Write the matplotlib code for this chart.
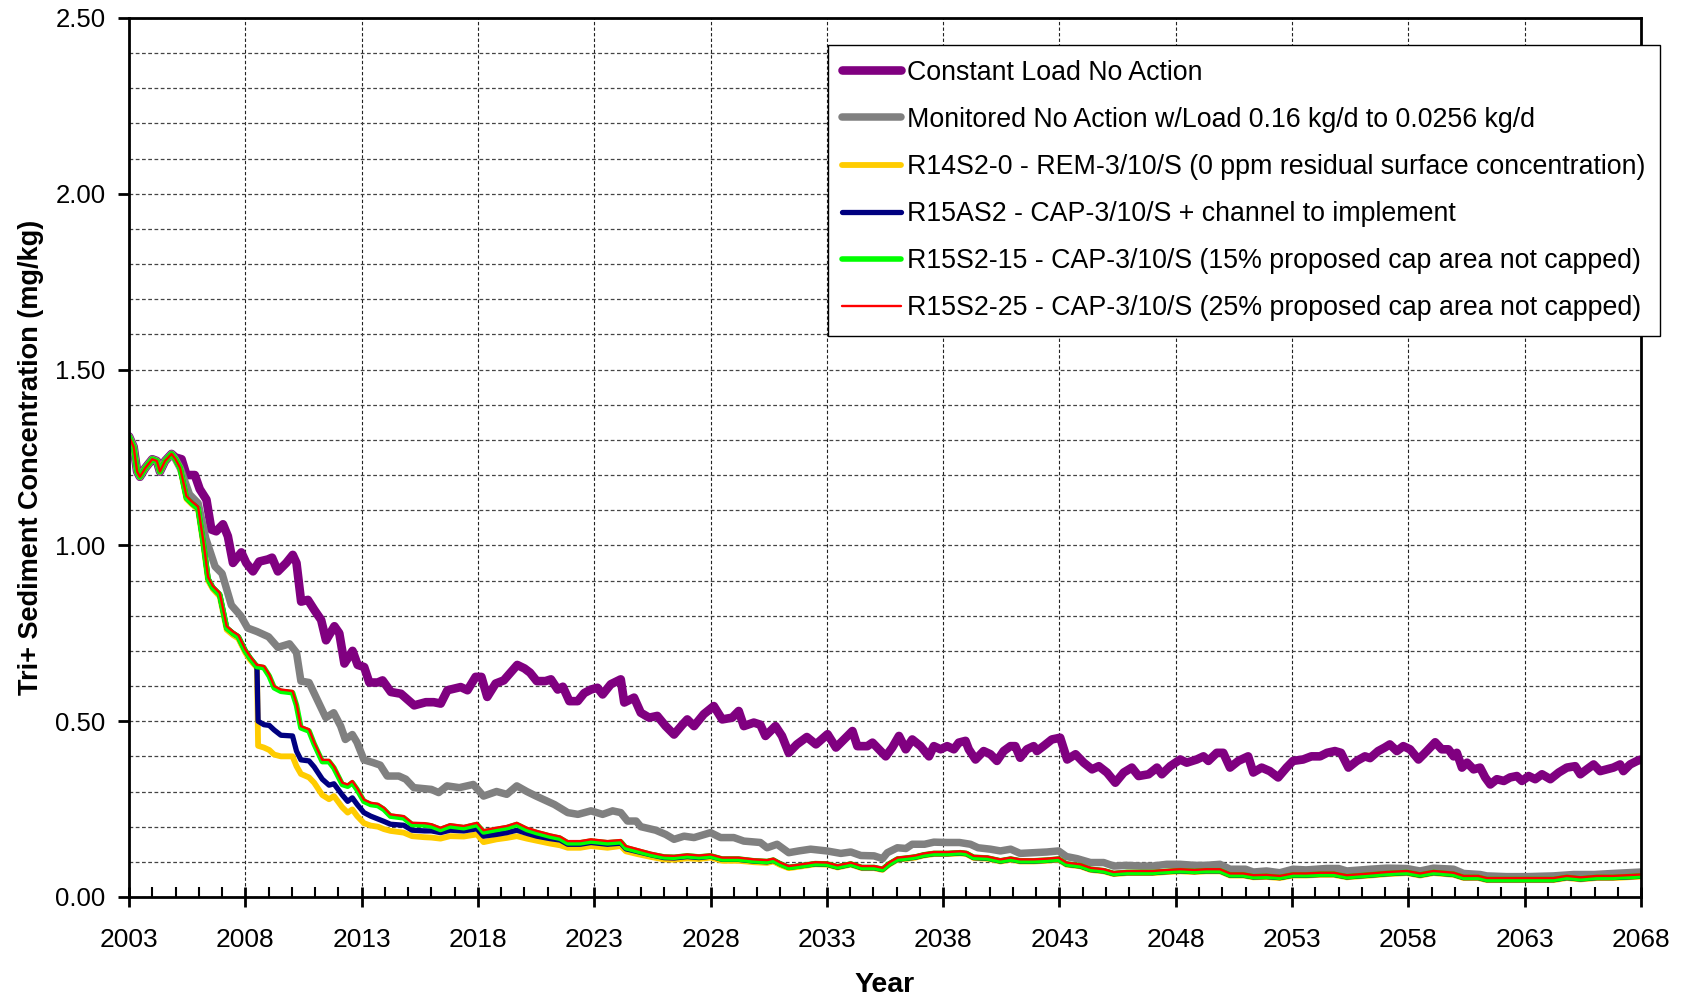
import matplotlib
matplotlib.use('Agg')
import matplotlib.pyplot as plt
from matplotlib.ticker import MultipleLocator, FixedLocator, FormatStrFormatter

plt.rcParams['font.family'] = ['Liberation Sans', 'DejaVu Sans']

# Constant load, no action
purple_years = [
    2003.0, 2003.2, 2003.35, 2003.47, 2003.7, 2004.0, 2004.2, 2004.33, 2004.55, 2004.83,
    2005.0, 2005.26, 2005.47, 2005.83, 2006.04, 2006.33, 2006.54, 2006.75, 2007.04, 2007.25,
    2007.47, 2007.83, 2008.04, 2008.33, 2008.6, 2008.97, 2009.15, 2009.4, 2009.76, 2010.04,
    2010.2, 2010.4, 2010.69, 2010.97, 2011.26, 2011.47, 2011.83, 2012.04, 2012.26, 2012.61,
    2012.83, 2013.11, 2013.33, 2013.69, 2013.9, 2014.26, 2014.69, 2015.26, 2015.76, 2016.1,
    2016.4, 2016.69, 2017.26, 2017.55, 2017.9, 2018.15, 2018.4, 2018.76, 2019.11, 2019.69,
    2020.0, 2020.24, 2020.53, 2020.9, 2021.14, 2021.43, 2021.65, 2021.93, 2022.29, 2022.57,
    2022.86, 2023.14, 2023.36, 2023.71, 2024.14, 2024.29, 2024.71, 2025.0, 2025.36, 2025.71,
    2026.07, 2026.43, 2026.79, 2027.0, 2027.29, 2027.71, 2028.14, 2028.5, 2028.93, 2029.21,
    2029.43, 2029.86, 2030.14, 2030.36, 2030.79, 2031.07, 2031.36, 2031.71, 2032.14, 2032.53,
    2033.03, 2033.39, 2033.74, 2034.1, 2034.31, 2034.74, 2034.96, 2035.24, 2035.53, 2035.81,
    2036.1, 2036.39, 2036.67, 2037.03, 2037.39, 2037.6, 2037.89, 2038.17, 2038.46, 2038.67,
    2038.96, 2039.1, 2039.39, 2039.74, 2040.03, 2040.31, 2040.6, 2040.89, 2041.1, 2041.31,
    2041.6, 2041.89, 2042.03, 2042.31, 2042.67, 2043.03, 2043.33, 2043.69, 2044.04, 2044.4,
    2044.69, 2045.04, 2045.4, 2045.76, 2046.11, 2046.4, 2046.83, 2047.19, 2047.4, 2047.76,
    2048.19, 2048.47, 2048.9, 2049.19, 2049.4, 2049.76, 2050.04, 2050.33, 2050.69, 2051.11,
    2051.33, 2051.69, 2052.04, 2052.4, 2052.76, 2053.04, 2053.47, 2053.83, 2054.2, 2054.5,
    2054.84, 2055.1, 2055.42, 2055.78, 2056.13, 2056.35, 2056.7, 2056.98, 2057.2, 2057.5,
    2057.78, 2058.07, 2058.43, 2058.79, 2059.15, 2059.43, 2059.72, 2059.94, 2060.08, 2060.3,
    2060.52, 2060.8, 2061.08, 2061.3, 2061.52, 2061.8, 2062.1, 2062.37, 2062.66, 2062.88,
    2063.17, 2063.45, 2063.74, 2064.1, 2064.46, 2064.81, 2065.17, 2065.39, 2065.67, 2065.96,
    2066.24, 2066.53, 2066.81, 2067.1, 2067.24, 2067.53, 2067.83, 2068.0,
]
purple_vals = [
    1.31, 1.28, 1.21, 1.195, 1.22, 1.245, 1.24, 1.21, 1.24, 1.26,
    1.25, 1.245, 1.20, 1.20, 1.16, 1.13, 1.045, 1.04, 1.06, 1.026,
    0.95, 0.98, 0.95, 0.926, 0.954, 0.96, 0.965, 0.926, 0.95, 0.973,
    0.95, 0.84, 0.845, 0.816, 0.788, 0.73, 0.77, 0.75, 0.664, 0.70,
    0.66, 0.654, 0.61, 0.61, 0.616, 0.583, 0.578, 0.545, 0.554, 0.554,
    0.55, 0.588, 0.597, 0.588, 0.626, 0.626, 0.569, 0.607, 0.616, 0.66,
    0.65, 0.638, 0.614, 0.614, 0.619, 0.59, 0.598, 0.557, 0.557, 0.58,
    0.59, 0.595, 0.576, 0.605, 0.619, 0.553, 0.567, 0.524, 0.51, 0.515,
    0.486, 0.462, 0.49, 0.505, 0.486, 0.52, 0.543, 0.505, 0.51, 0.529,
    0.486, 0.496, 0.49, 0.458, 0.486, 0.458, 0.41, 0.434, 0.455, 0.434,
    0.463, 0.425, 0.448, 0.472, 0.429, 0.429, 0.439, 0.42, 0.40, 0.425,
    0.458, 0.42, 0.448, 0.429, 0.40, 0.429, 0.42, 0.429, 0.42, 0.439,
    0.444, 0.42, 0.391, 0.415, 0.406, 0.387, 0.415, 0.429, 0.429, 0.396,
    0.42, 0.429, 0.415, 0.429, 0.448, 0.453, 0.391, 0.406, 0.382, 0.363,
    0.372, 0.354, 0.325, 0.354, 0.368, 0.344, 0.349, 0.368, 0.349, 0.372,
    0.391, 0.382, 0.391, 0.40, 0.387, 0.41, 0.41, 0.368, 0.387, 0.40,
    0.354, 0.368, 0.358, 0.34, 0.368, 0.387, 0.391, 0.40, 0.40, 0.41,
    0.415, 0.41, 0.368, 0.387, 0.40, 0.395, 0.415, 0.425, 0.434, 0.415,
    0.429, 0.42, 0.391, 0.415, 0.44, 0.42, 0.42, 0.40, 0.41, 0.368,
    0.382, 0.363, 0.368, 0.34, 0.32, 0.335, 0.33, 0.34, 0.344, 0.33,
    0.344, 0.335, 0.349, 0.335, 0.354, 0.368, 0.372, 0.349, 0.363, 0.377,
    0.358, 0.363, 0.368, 0.377, 0.358, 0.377, 0.387, 0.391,
]

# Monitored no action with declining load
gray_years = [
    2003.0, 2003.2, 2003.35, 2003.47, 2003.7, 2004.0, 2004.2, 2004.33, 2004.55, 2004.83,
    2005.0, 2005.2, 2005.6, 2005.97, 2006.3, 2006.7, 2007.0, 2007.4, 2007.8, 2008.1,
    2008.5, 2009.0, 2009.4, 2009.9, 2010.2, 2010.39, 2010.74, 2011.1, 2011.46, 2011.8,
    2012.1, 2012.3, 2012.6, 2012.8, 2013.1, 2013.5, 2013.8, 2014.1, 2014.6, 2014.9,
    2015.24, 2016.0, 2016.31, 2016.67, 2017.2, 2017.8, 2018.24, 2018.8, 2019.24, 2019.67,
    2020.1, 2020.5, 2020.96, 2021.29, 2021.86, 2022.3, 2022.86, 2023.36, 2023.79, 2024.14,
    2024.43, 2024.8, 2025.0, 2025.64, 2026.07, 2026.43, 2026.86, 2027.29, 2028.0, 2028.43,
    2029.0, 2029.43, 2030.14, 2030.43, 2030.86, 2031.36, 2031.79, 2032.3, 2033.0, 2033.6,
    2034.03, 2034.46, 2035.03, 2035.39, 2035.6, 2036.03, 2036.4, 2036.67, 2037.2, 2037.6,
    2038.17, 2038.7, 2039.17, 2039.5, 2040.03, 2040.46, 2040.9, 2041.31, 2041.9, 2042.46,
    2042.96, 2043.3, 2043.76, 2044.33, 2044.9, 2045.33, 2045.9, 2046.5, 2047.0, 2047.61,
    2048.19, 2048.8, 2049.3, 2049.9, 2050.33, 2051.0, 2051.33, 2051.9, 2052.47, 2053.04,
    2053.6, 2054.47, 2055.0, 2055.35, 2056.35, 2057.07, 2057.93, 2058.5, 2059.08, 2059.94,
    2060.37, 2061.08, 2061.37, 2062.2, 2063.1, 2064.24, 2065.1, 2066.0, 2066.8, 2068.0,
]
gray_vals = [
    1.31, 1.28, 1.21, 1.195, 1.22, 1.245, 1.24, 1.21, 1.24, 1.26,
    1.245, 1.22, 1.145, 1.12, 1.02, 0.94, 0.92, 0.83, 0.80, 0.765,
    0.755, 0.74, 0.71, 0.72, 0.695, 0.614, 0.61, 0.56, 0.51, 0.524,
    0.486, 0.448, 0.462, 0.44, 0.39, 0.382, 0.375, 0.344, 0.344, 0.335,
    0.311, 0.306, 0.297, 0.316, 0.311, 0.32, 0.287, 0.30, 0.292, 0.316,
    0.30, 0.287, 0.273, 0.263, 0.24, 0.235, 0.245, 0.235, 0.245, 0.24,
    0.216, 0.216, 0.20, 0.19, 0.178, 0.164, 0.173, 0.169, 0.183, 0.169,
    0.169, 0.159, 0.155, 0.14, 0.15, 0.126, 0.131, 0.136, 0.131, 0.124,
    0.128, 0.118, 0.117, 0.109, 0.126, 0.14, 0.138, 0.15, 0.15, 0.156,
    0.155, 0.155, 0.15, 0.14, 0.136, 0.131, 0.136, 0.124, 0.126, 0.128,
    0.131, 0.115, 0.109, 0.098, 0.098, 0.088, 0.09, 0.088, 0.088, 0.093,
    0.093, 0.09, 0.09, 0.093, 0.079, 0.079, 0.071, 0.074, 0.069, 0.079,
    0.077, 0.081, 0.081, 0.074, 0.079, 0.082, 0.081, 0.074, 0.082, 0.079,
    0.067, 0.064, 0.06, 0.058, 0.058, 0.06, 0.064, 0.064, 0.067, 0.071,
]

# Remedial scenarios share one time axis
scen_years = [
    2003.0, 2003.2, 2003.35, 2003.47, 2003.7, 2004.0, 2004.2, 2004.33, 2004.55, 2004.83,
    2005.0, 2005.2, 2005.47, 2005.7, 2005.97, 2006.2, 2006.4, 2006.6, 2006.9, 2007.2,
    2007.47, 2007.7, 2008.0, 2008.2, 2008.5, 2008.55, 2008.8, 2009.03, 2009.24, 2009.53,
    2010.03, 2010.2, 2010.39, 2010.74, 2010.96, 2011.31, 2011.6, 2011.81, 2012.17, 2012.4,
    2012.6, 2012.81, 2013.1, 2013.39, 2013.7, 2013.96, 2014.24, 2014.81, 2015.17, 2015.7,
    2016.0, 2016.39, 2016.8, 2017.39, 2017.96, 2018.24, 2018.8, 2019.24, 2019.67, 2020.1,
    2020.53, 2021.1, 2021.53, 2021.86, 2022.4, 2022.86, 2023.57, 2024.14, 2024.36, 2024.86,
    2025.43, 2026.0, 2026.43, 2027.0, 2027.5, 2028.0, 2028.5, 2029.2, 2029.86, 2030.43,
    2030.7, 2031.0, 2031.36, 2031.8, 2032.5, 2033.0, 2033.46, 2034.03, 2034.5, 2035.03,
    2035.39, 2035.67, 2036.03, 2036.46, 2036.8, 2037.17, 2037.6, 2038.2, 2038.74, 2039.0,
    2039.31, 2039.9, 2040.46, 2040.9, 2041.31, 2041.9, 2042.46, 2042.96, 2043.3, 2043.9,
    2044.33, 2044.9, 2045.33, 2045.9, 2046.5, 2047.0, 2047.61, 2048.19, 2048.8, 2049.3,
    2049.9, 2050.33, 2050.9, 2051.33, 2051.9, 2052.47, 2053.04, 2053.6, 2054.2, 2054.8,
    2055.35, 2056.35, 2057.07, 2057.93, 2058.5, 2059.08, 2059.94, 2060.37, 2061.0, 2061.37,
    2062.2, 2063.1, 2064.24, 2064.81, 2065.4, 2066.1, 2066.8, 2067.4, 2068.0,
]
r14s2_0 = [
    1.31, 1.28, 1.21, 1.195, 1.22, 1.245, 1.24, 1.21, 1.24, 1.26,
    1.245, 1.22, 1.132, 1.117, 1.102, 1.0, 0.9, 0.876, 0.855, 0.76,
    0.745, 0.735, 0.695, 0.675, 0.652, 0.43, 0.425, 0.418, 0.405, 0.40,
    0.40, 0.372, 0.35, 0.34, 0.325, 0.29, 0.278, 0.287, 0.255, 0.24,
    0.249, 0.23, 0.21, 0.203, 0.2, 0.193, 0.188, 0.183, 0.173, 0.17,
    0.169, 0.166, 0.173, 0.172, 0.178, 0.156, 0.164, 0.168, 0.173, 0.166,
    0.16, 0.152, 0.147, 0.14, 0.14, 0.145, 0.14, 0.145, 0.13, 0.122,
    0.114, 0.107, 0.106, 0.11, 0.108, 0.112, 0.103, 0.103, 0.099, 0.097,
    0.101, 0.091, 0.082, 0.086, 0.093, 0.092, 0.084, 0.092, 0.082, 0.082,
    0.077, 0.092, 0.106, 0.109, 0.112, 0.118, 0.122, 0.122, 0.124, 0.122,
    0.111, 0.109, 0.101, 0.106, 0.101, 0.101, 0.103, 0.106, 0.092, 0.087,
    0.077, 0.073, 0.065, 0.068, 0.068, 0.068, 0.071, 0.073, 0.071, 0.073,
    0.073, 0.061, 0.061, 0.056, 0.057, 0.054, 0.061, 0.061, 0.063, 0.063,
    0.056, 0.061, 0.065, 0.068, 0.061, 0.068, 0.063, 0.054, 0.054, 0.048,
    0.048, 0.048, 0.048, 0.054, 0.05, 0.054, 0.054, 0.056, 0.058,
]
r15as2 = [
    1.31, 1.28, 1.21, 1.195, 1.22, 1.245, 1.24, 1.21, 1.24, 1.26,
    1.245, 1.22, 1.135, 1.12, 1.105, 1.005, 0.905, 0.88, 0.86, 0.765,
    0.75, 0.74, 0.70, 0.68, 0.655, 0.50, 0.49, 0.488, 0.475, 0.46,
    0.458, 0.415, 0.39, 0.387, 0.37, 0.335, 0.318, 0.322, 0.29, 0.272,
    0.282, 0.263, 0.24, 0.23, 0.222, 0.215, 0.207, 0.204, 0.19, 0.188,
    0.188, 0.183, 0.19, 0.188, 0.194, 0.173, 0.178, 0.183, 0.19, 0.181,
    0.173, 0.166, 0.162, 0.15, 0.15, 0.155, 0.15, 0.153, 0.137, 0.129,
    0.12, 0.112, 0.111, 0.115, 0.112, 0.116, 0.107, 0.107, 0.102, 0.1,
    0.104, 0.094, 0.084, 0.088, 0.094, 0.093, 0.085, 0.093, 0.083, 0.083,
    0.078, 0.093, 0.107, 0.11, 0.113, 0.119, 0.123, 0.123, 0.125, 0.123,
    0.112, 0.11, 0.102, 0.107, 0.102, 0.102, 0.104, 0.107, 0.093, 0.088,
    0.078, 0.074, 0.066, 0.069, 0.069, 0.069, 0.072, 0.074, 0.072, 0.074,
    0.074, 0.062, 0.062, 0.057, 0.058, 0.055, 0.062, 0.062, 0.064, 0.064,
    0.057, 0.062, 0.066, 0.069, 0.062, 0.069, 0.064, 0.055, 0.055, 0.049,
    0.049, 0.049, 0.049, 0.055, 0.051, 0.055, 0.055, 0.057, 0.059,
]
r15s2_15 = [
    1.31, 1.28, 1.21, 1.195, 1.22, 1.245, 1.24, 1.21, 1.24, 1.26,
    1.245, 1.22, 1.135, 1.12, 1.105, 1.005, 0.905, 0.88, 0.86, 0.765,
    0.75, 0.74, 0.70, 0.68, 0.655, 0.655, 0.652, 0.628, 0.595, 0.585,
    0.581, 0.545, 0.481, 0.472, 0.435, 0.385, 0.385, 0.367, 0.32, 0.315,
    0.325, 0.305, 0.272, 0.263, 0.26, 0.249, 0.23, 0.225, 0.206, 0.205,
    0.202, 0.192, 0.202, 0.197, 0.206, 0.185, 0.192, 0.197, 0.206, 0.192,
    0.183, 0.173, 0.167, 0.154, 0.154, 0.159, 0.154, 0.157, 0.14, 0.131,
    0.121, 0.114, 0.113, 0.117, 0.114, 0.117, 0.108, 0.108, 0.103, 0.101,
    0.105, 0.094, 0.084, 0.088, 0.095, 0.094, 0.086, 0.094, 0.084, 0.084,
    0.079, 0.094, 0.108, 0.111, 0.114, 0.12, 0.124, 0.124, 0.126, 0.124,
    0.113, 0.111, 0.103, 0.108, 0.103, 0.103, 0.105, 0.108, 0.094, 0.089,
    0.079, 0.075, 0.067, 0.07, 0.07, 0.07, 0.073, 0.075, 0.073, 0.075,
    0.075, 0.063, 0.063, 0.058, 0.059, 0.056, 0.063, 0.063, 0.065, 0.065,
    0.058, 0.063, 0.067, 0.07, 0.063, 0.07, 0.065, 0.056, 0.056, 0.05,
    0.05, 0.05, 0.05, 0.056, 0.052, 0.056, 0.056, 0.058, 0.06,
]
r15s2_25 = [
    1.31, 1.28, 1.21, 1.195, 1.22, 1.245, 1.24, 1.21, 1.24, 1.26,
    1.245, 1.22, 1.14, 1.125, 1.11, 1.01, 0.91, 0.885, 0.865, 0.77,
    0.755, 0.745, 0.705, 0.685, 0.66, 0.66, 0.657, 0.633, 0.60, 0.59,
    0.586, 0.55, 0.486, 0.477, 0.44, 0.39, 0.39, 0.372, 0.325, 0.32,
    0.33, 0.31, 0.277, 0.268, 0.265, 0.254, 0.235, 0.23, 0.211, 0.21,
    0.207, 0.197, 0.207, 0.202, 0.211, 0.19, 0.197, 0.202, 0.211, 0.197,
    0.188, 0.178, 0.172, 0.159, 0.159, 0.164, 0.159, 0.162, 0.145, 0.136,
    0.126, 0.118, 0.117, 0.121, 0.118, 0.121, 0.112, 0.112, 0.107, 0.105,
    0.109, 0.098, 0.088, 0.092, 0.099, 0.098, 0.09, 0.098, 0.088, 0.088,
    0.083, 0.098, 0.112, 0.115, 0.118, 0.124, 0.128, 0.128, 0.13, 0.128,
    0.117, 0.115, 0.107, 0.112, 0.107, 0.107, 0.109, 0.112, 0.098, 0.093,
    0.083, 0.079, 0.071, 0.074, 0.074, 0.074, 0.077, 0.079, 0.077, 0.079,
    0.079, 0.067, 0.067, 0.062, 0.063, 0.06, 0.067, 0.067, 0.069, 0.069,
    0.062, 0.067, 0.071, 0.074, 0.067, 0.074, 0.069, 0.06, 0.06, 0.054,
    0.054, 0.054, 0.054, 0.06, 0.056, 0.06, 0.06, 0.062, 0.064,
]

labels = [
    'Constant Load No Action',
    'Monitored No Action w/Load 0.16 kg/d to 0.0256 kg/d',
    'R14S2-0 - REM-3/10/S (0 ppm residual surface concentration)',
    'R15AS2 - CAP-3/10/S + channel to implement',
    'R15S2-15 - CAP-3/10/S (15% proposed cap area not capped)',
    'R15S2-25 - CAP-3/10/S (25% proposed cap area not capped)',
]
year_ticks = list(range(2003, 2069, 5))

fig = plt.figure(figsize=(16.84, 9.96), dpi=100)
ax = fig.add_axes([0.0766, 0.0994, 0.8979, 0.8826])

style = dict(solid_joinstyle='round', solid_capstyle='round')
ax.plot(purple_years, purple_vals, color='#800080', lw=6.2, label=labels[0], **style)
ax.plot(gray_years, gray_vals, color='#808080', lw=5.4, label=labels[1], **style)
ax.plot(scen_years, r14s2_0, color='#FFCC00', lw=4.2, label=labels[2], **style)
ax.plot(scen_years, r15as2, color='#000080', lw=3.8, label=labels[3], **style)
ax.plot(scen_years, r15s2_15, color='#00FF00', lw=4.0, label=labels[4], **style)
ax.plot(scen_years, r15s2_25, color='#FF0000', lw=1.7, label=labels[5], **style)

ax.set_xlim(2003, 2068)
ax.set_ylim(0, 2.5)
ax.xaxis.set_major_locator(FixedLocator(year_ticks))
ax.xaxis.set_minor_locator(MultipleLocator(1))
ax.yaxis.set_major_locator(MultipleLocator(0.5))
ax.yaxis.set_minor_locator(MultipleLocator(0.1))
ax.yaxis.set_major_formatter(FormatStrFormatter('%.2f'))

ax.set_axisbelow(True)
ax.grid(True, which='major', axis='x', color='#222222', lw=0.8, ls=(0, (3, 2)))
ax.grid(True, which='both', axis='y', color='#444444', lw=0.9, ls=(0, (3, 2)))

for side in ax.spines.values():
    side.set_linewidth(2.0)

ax.tick_params(axis='x', which='major', direction='inout', length=14, width=2,
               labelsize=19, pad=15)
ax.tick_params(axis='x', which='minor', direction='in', length=7, width=1.5)
ax.tick_params(axis='y', which='major', direction='out', length=8, width=2,
               labelsize=18.5, pad=9)
ax.tick_params(axis='y', which='minor', length=0)

ax.set_xlabel('Year', fontsize=20.5, fontweight='bold')
ax.set_ylabel('Tri+ Sediment Concentration (mg/kg)', fontsize=19.5, fontweight='bold')
ax.xaxis.set_label_coords(0.5, -0.085)
ax.yaxis.set_label_coords(-0.056, 0.5)

leg = ax.legend(loc='upper left', bbox_to_anchor=(0.4914, 0.955),
                bbox_transform=fig.transFigure, borderaxespad=0,
                fontsize=19.3, frameon=True, fancybox=False, framealpha=1,
                edgecolor='black', handlelength=2.2, handletextpad=0.2,
                labelspacing=0.79, borderpad=0.55)
leg.get_frame().set_linewidth(1.0)

fig.savefig('out.png', dpi=100)
